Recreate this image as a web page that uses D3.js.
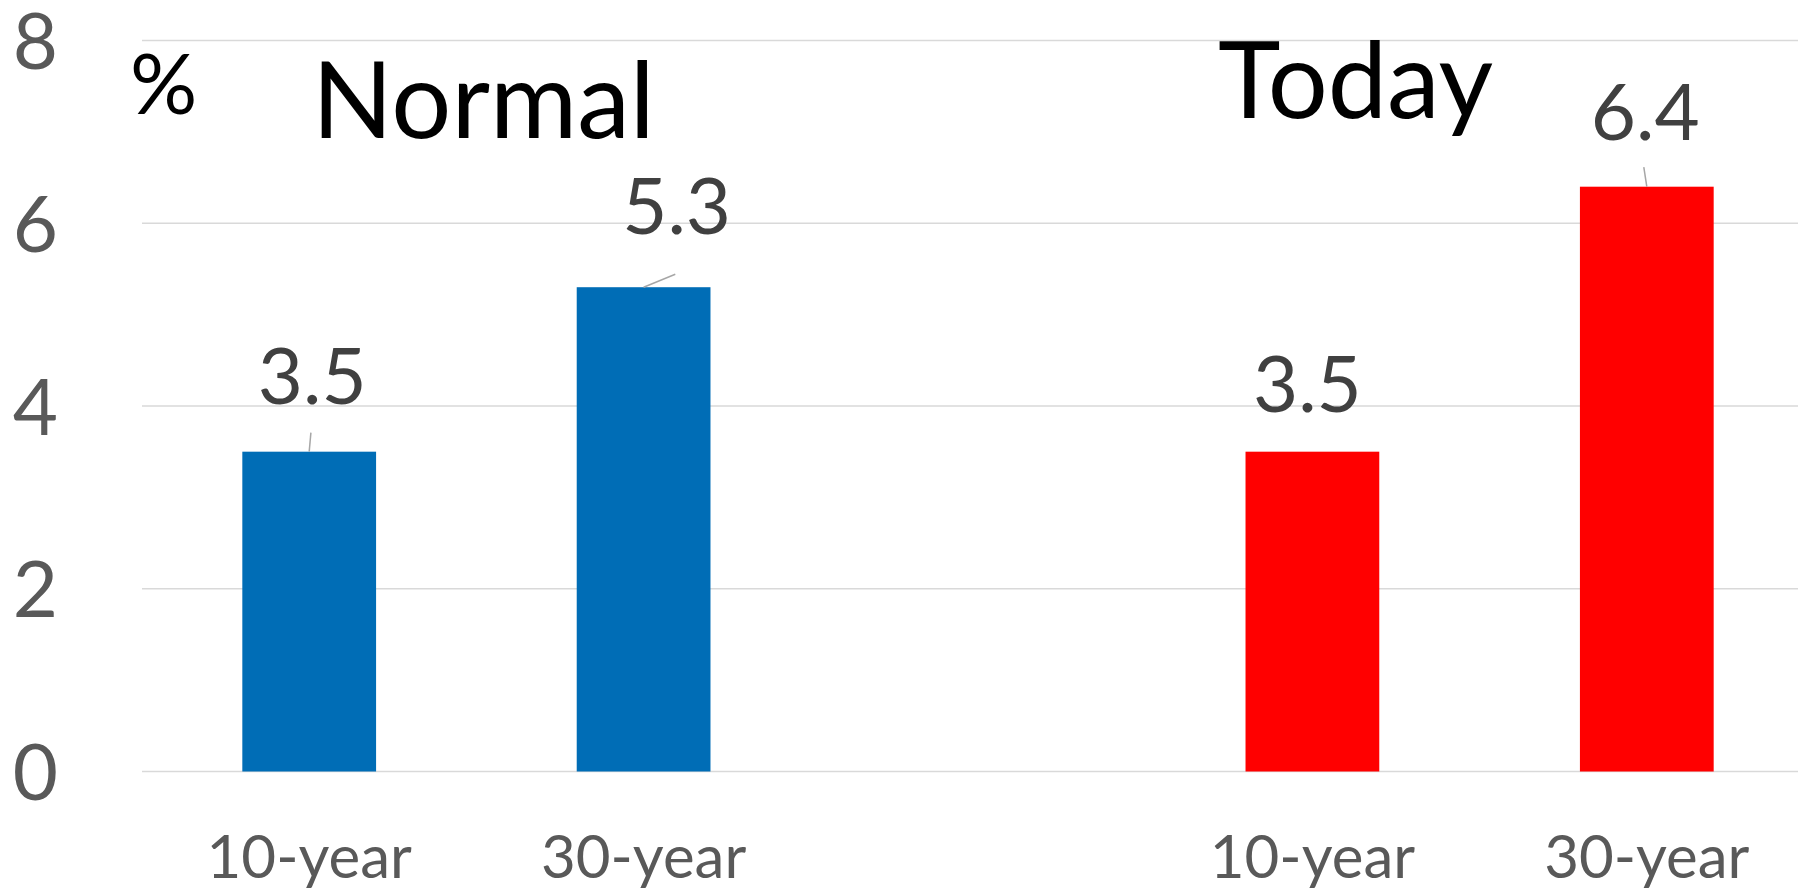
<!DOCTYPE html>
<html>
<head>
<meta charset="utf-8">
<script src="https://cdn.jsdelivr.net/npm/d3@7"></script>
<style>
  html, body { margin: 0; padding: 0; background: #fff; }
  svg { display: block; }
  text { font-family: Lato, "Open Sans", sans-serif; }
</style>
</head>
<body>
<svg id="chart" width="1798" height="890"></svg>
<script>
// Bond yields: normal levels vs today, in percent
const categoryKeys = ["n10", "n30", "gap", "t10", "t30"];
const categoryLabels = ["10-year", "30-year", "", "10-year", "30-year"];
const yields = [3.5, 5.3, null, 3.5, 6.4];
const barColors = ["#006DB6", "#006DB6", null, "#FF0000", "#FF0000"];
const yTicks = [0, 2, 4, 6, 8];
const groupTitles = ["Normal", "Today"];
const unitLabel = "%";

// Hand-placed data label offsets (pixels from bar top centre) and leader lines
const labelLayout = {
  n10: { dx: 3, dy: -48, leader: [1.7, -19] },
  n30: { dx: 33, dy: -53, leader: [31.7, -13] },
  t10: { dx: -5, dy: -40, leader: null },
  t30: { dx: -1.5, dy: -47, leader: [-3, -19.5] }
};

const svg = d3.select("#chart");
const plotLeft = 142, plotRight = 1814;
const y = d3.scaleLinear().domain([0, 8]).range([771.5, 40.5]);
const x = d3.scaleBand().domain(categoryKeys).range([plotLeft, plotRight]).paddingInner(0.6).paddingOuter(0.3);

// gridlines
svg.append("g")
  .selectAll("line")
  .data(yTicks)
  .join("line")
  .attr("x1", plotLeft).attr("x2", 1798)
  .attr("y1", d => y(d)).attr("y2", d => y(d))
  .attr("stroke", "#d9d9d9").attr("stroke-width", 1.6);

// y axis tick labels
const yAxis = d3.axisLeft(y).tickValues(yTicks).tickSize(0).tickPadding(0);
const yg = svg.append("g").attr("transform", "translate(58,0)").call(yAxis);
yg.select(".domain").remove();
yg.selectAll("text")
  .attr("font-size", 78).attr("fill", "#595959")
  .attr("dy", "0.36em")
  .style("font-family", "Lato, 'Open Sans', sans-serif");

// x axis category labels
const xAxis = d3.axisBottom(x).tickSize(0).tickPadding(0).tickFormat((d, i) => categoryLabels[i]);
const xg = svg.append("g").attr("transform", "translate(0,878)").call(xAxis);
xg.select(".domain").remove();
xg.selectAll("text")
  .attr("y", 0).attr("dy", 0)
  .attr("font-size", 60).attr("fill", "#595959")
  .style("font-family", "Lato, 'Open Sans', sans-serif");

// bars
const barData = categoryKeys.map((k, i) => ({ key: k, value: yields[i], color: barColors[i] }))
  .filter(d => d.value !== null);

svg.append("g")
  .selectAll("rect")
  .data(barData)
  .join("rect")
  .attr("x", d => x(d.key))
  .attr("width", x.bandwidth())
  .attr("y", d => y(d.value))
  .attr("height", d => y(0) - y(d.value))
  .attr("fill", d => d.color);

// leader lines
svg.append("g")
  .selectAll("line")
  .data(barData.filter(d => labelLayout[d.key].leader))
  .join("line")
  .attr("x1", d => x(d.key) + x.bandwidth() / 2)
  .attr("y1", d => y(d.value))
  .attr("x2", d => x(d.key) + x.bandwidth() / 2 + labelLayout[d.key].leader[0])
  .attr("y2", d => y(d.value) + labelLayout[d.key].leader[1])
  .attr("stroke", "#a6a6a6").attr("stroke-width", 1.5);

// data labels
svg.append("g")
  .selectAll("text")
  .data(barData)
  .join("text")
  .attr("x", d => x(d.key) + x.bandwidth() / 2 + labelLayout[d.key].dx)
  .attr("y", d => y(d.value) + labelLayout[d.key].dy)
  .attr("text-anchor", "middle")
  .attr("font-size", 78)
  .attr("fill", "#404040")
  .text(d => d3.format(".1f")(d.value));

// group titles and unit
svg.append("text")
  .attr("x", 312).attr("y", 138)
  .attr("font-size", 106).attr("fill", "#000")
  .text(groupTitles[0]);
svg.append("text")
  .attr("x", 1218).attr("y", 118)
  .attr("font-size", 106).attr("fill", "#000")
  .text(groupTitles[1]);
svg.append("text")
  .attr("x", 130).attr("y", 114)
  .attr("font-size", 84).attr("fill", "#000")
  .text(unitLabel);
</script>
</body>
</html>
